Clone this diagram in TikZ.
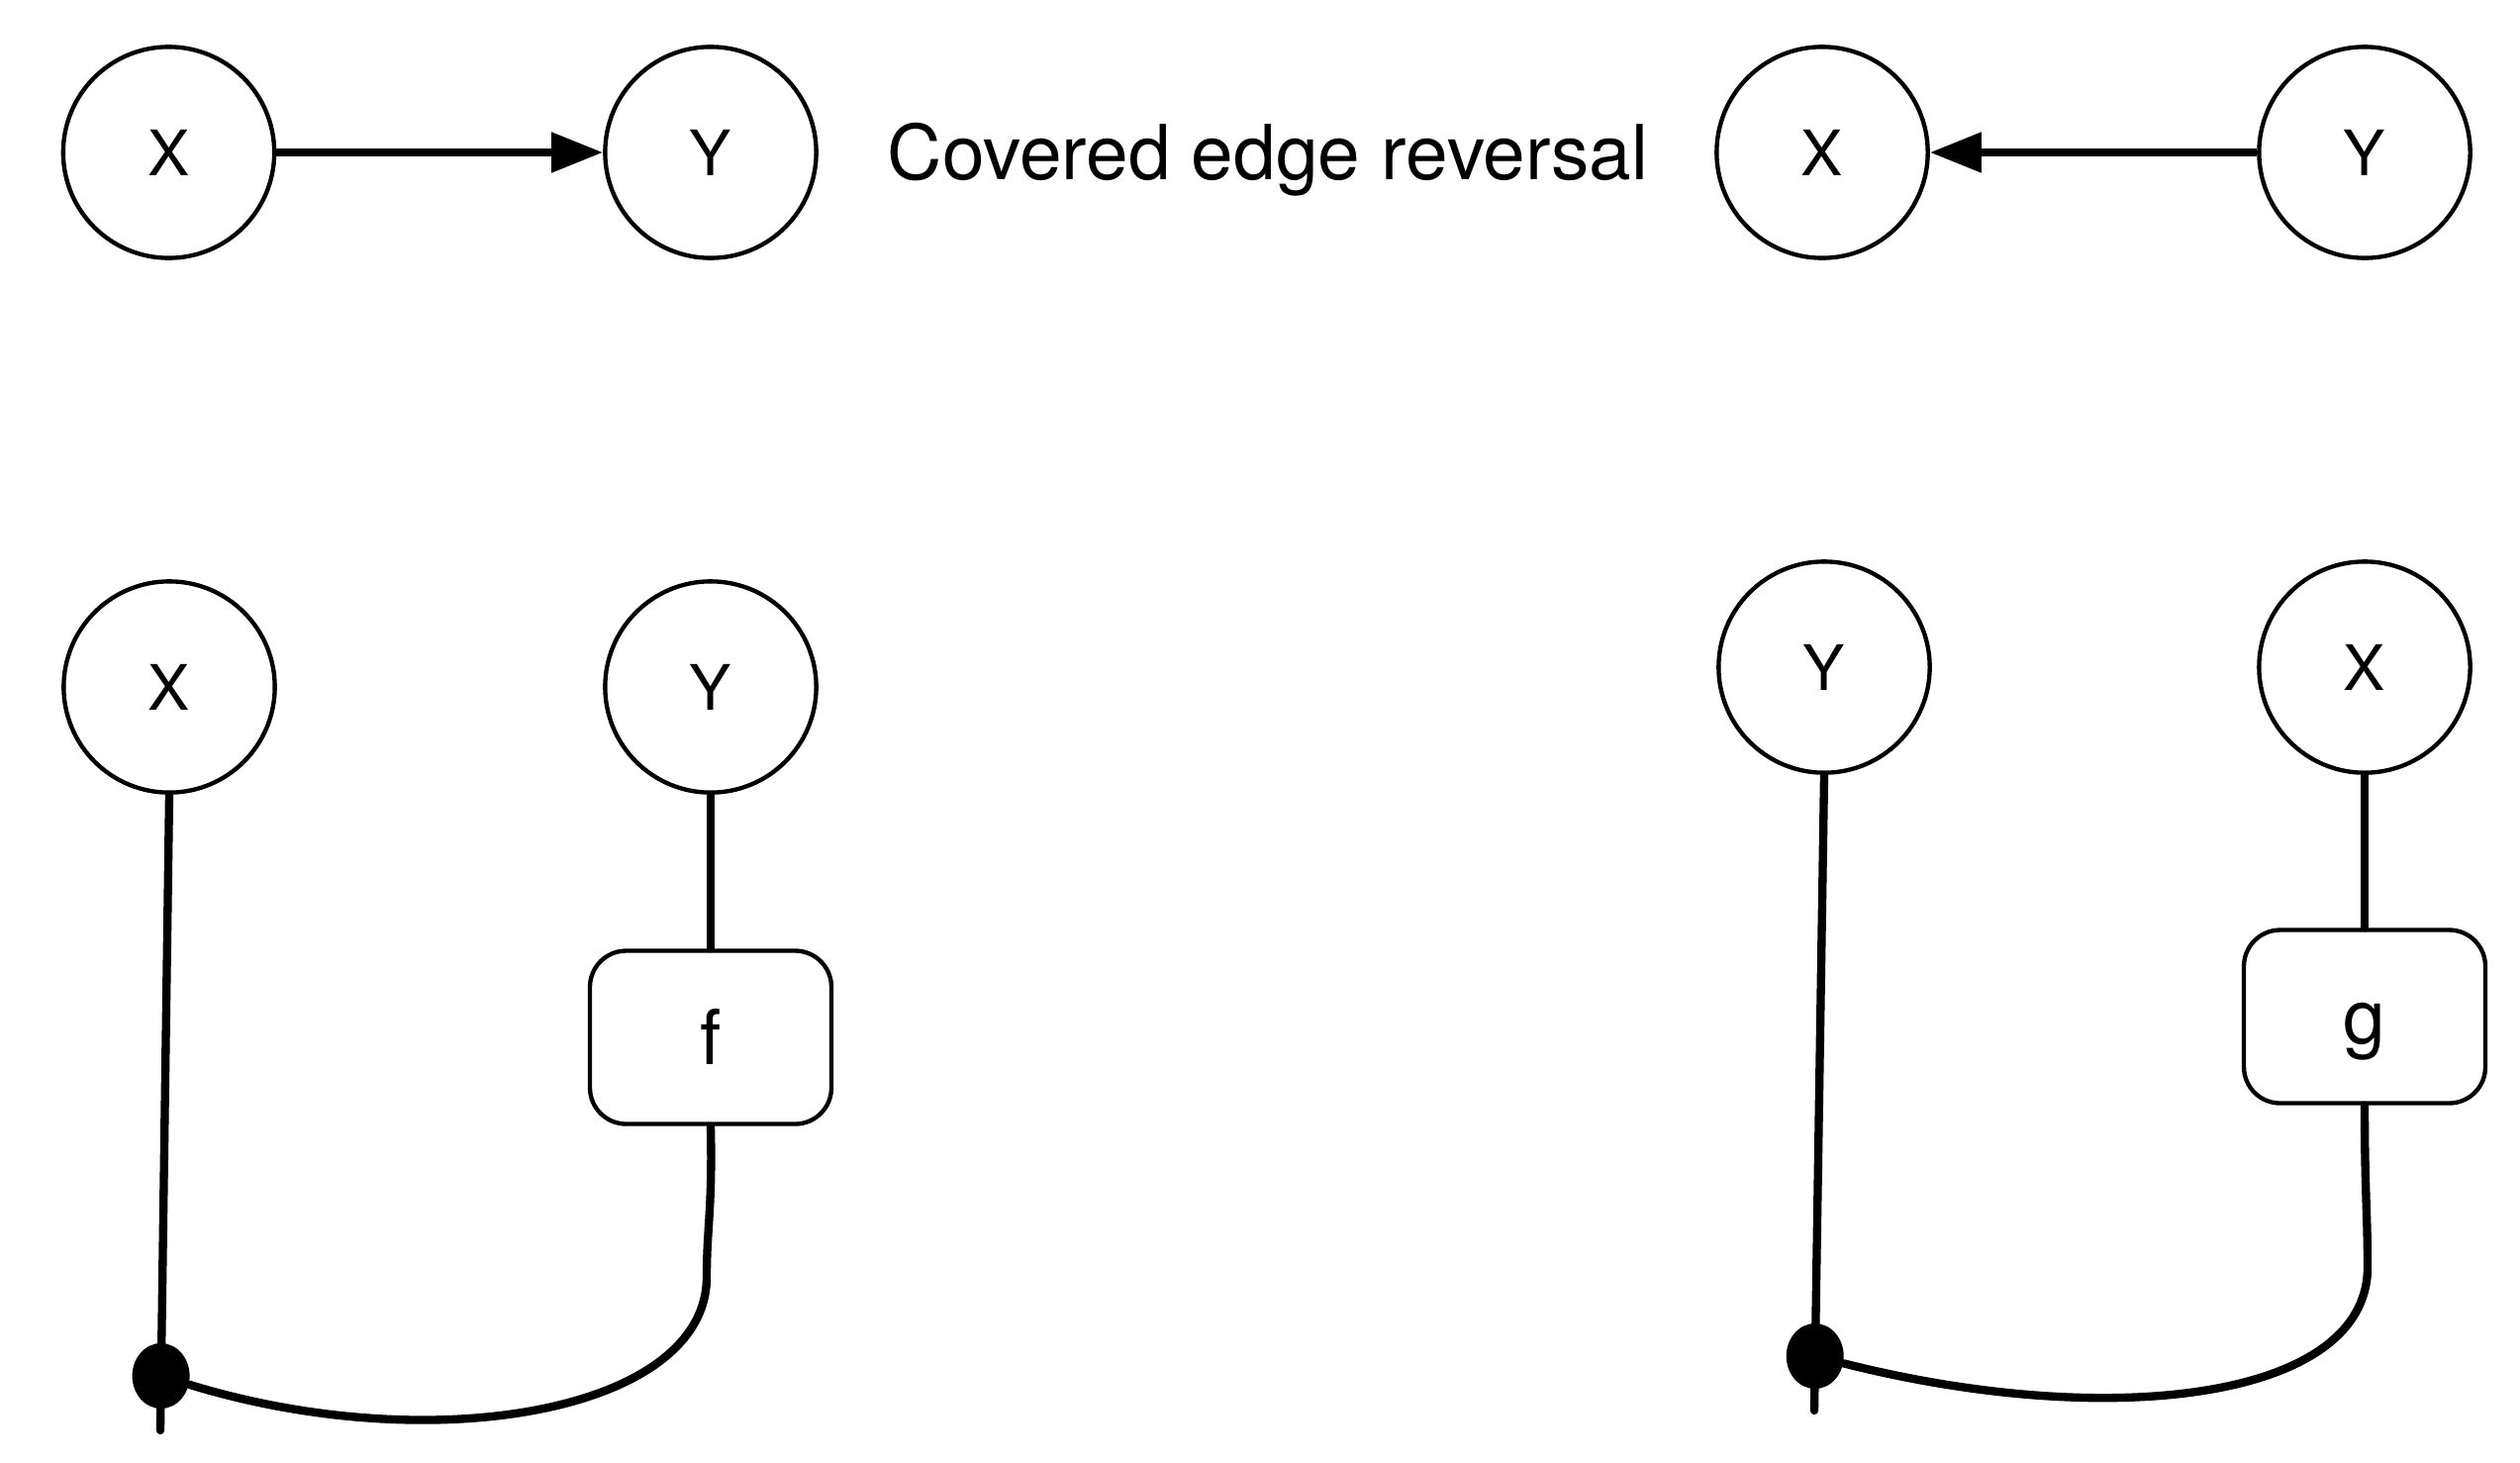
\documentclass[tikz,border=0pt]{standalone}
\usepackage{fontspec}
\setmainfont{TeX Gyre Heros}
\usetikzlibrary{arrows.meta}
\usetikzlibrary{shapes.geometric}

\begin{document}
\begin{tikzpicture}[x=0.3pt,y=0.3pt,yscale=-1,xscale=1,
  var/.style={draw,circle,line width=1.3pt,minimum size=64pt,inner sep=0pt,font=\fontsize{19pt}{22pt}\selectfont},
  factor/.style={draw,rectangle,rounded corners=11pt,line width=1.3pt,minimum width=73.2pt,minimum height=52.5pt,inner sep=0pt,text height=16.5pt,text depth=0pt,font=\fontsize{23pt}{27pt}\selectfont},
  joint/.style={ellipse,fill=black,minimum width=17.4pt,minimum height=19.8pt,inner sep=0pt},
  wire/.style={line width=2.5pt,line cap=round},
  dir/.style={line width=2.5pt,-{Triangle[length=15.6pt,width=11.7pt]}}]
\useasboundingbox (0,0) rectangle (2546,1477);

%Shape: Circle
\draw (170.5,154) node [var] (XL) {X};
%Shape: Circle
\draw (718,154) node [var] (YL) {Y};
% Text Node
\draw (1281,181) node [anchor=base,inner sep=0pt,font=\fontsize{23pt}{27pt}\selectfont] (title) {Covered edge reversal};
%Shape: Circle
\draw (1841,154) node [var] (XR) {X};
%Shape: Circle
\draw (2389,154) node [var] (YR) {Y};

%Straight Lines
\draw [dir] (XL) -- (YL);
%Straight Lines
\draw [dir] (YR) -- (XR);

%Shape: Circle
\draw (171,694) node [var] (XLb) {X};
%Shape: Circle
\draw (718,694) node [var] (YLb) {Y};
%Shape: Rounded Rect
\draw (718,1048) node [factor] (boxF) {f};
\coordinate (stubL) at (162,1445);

%Straight Lines
\draw [wire] (XLb.south) -- (stubL);
\draw [wire] (YLb.south) -- (boxF.north);
\draw (162.6,1390) node [joint] (dotL) {};
%Curve Lines
\draw [wire] (boxF.south) .. controls (720,1220) and (714,1240) .. (714,1290) .. controls (714,1425) and (440,1475) .. (dotL);

%Shape: Circle
\draw (1843,674) node [var] (YRb) {Y};
%Shape: Circle
\draw (2389,674) node [var] (XRb) {X};
%Shape: Rounded Rect
\draw (2389,1027) node [factor] (boxG) {g};
\coordinate (stubR) at (1833,1425);

%Straight Lines
\draw [wire] (YRb.south) -- (stubR);
\draw [wire] (XRb.south) -- (boxG.north);
\draw (1833.7,1370) node [joint] (dotR) {};
%Curve Lines
\draw [wire] (boxG.south) .. controls (2389,1200) and (2392,1230) .. (2392,1280) .. controls (2392,1415) and (2130,1445) .. (dotR);

\end{tikzpicture}
\end{document}
